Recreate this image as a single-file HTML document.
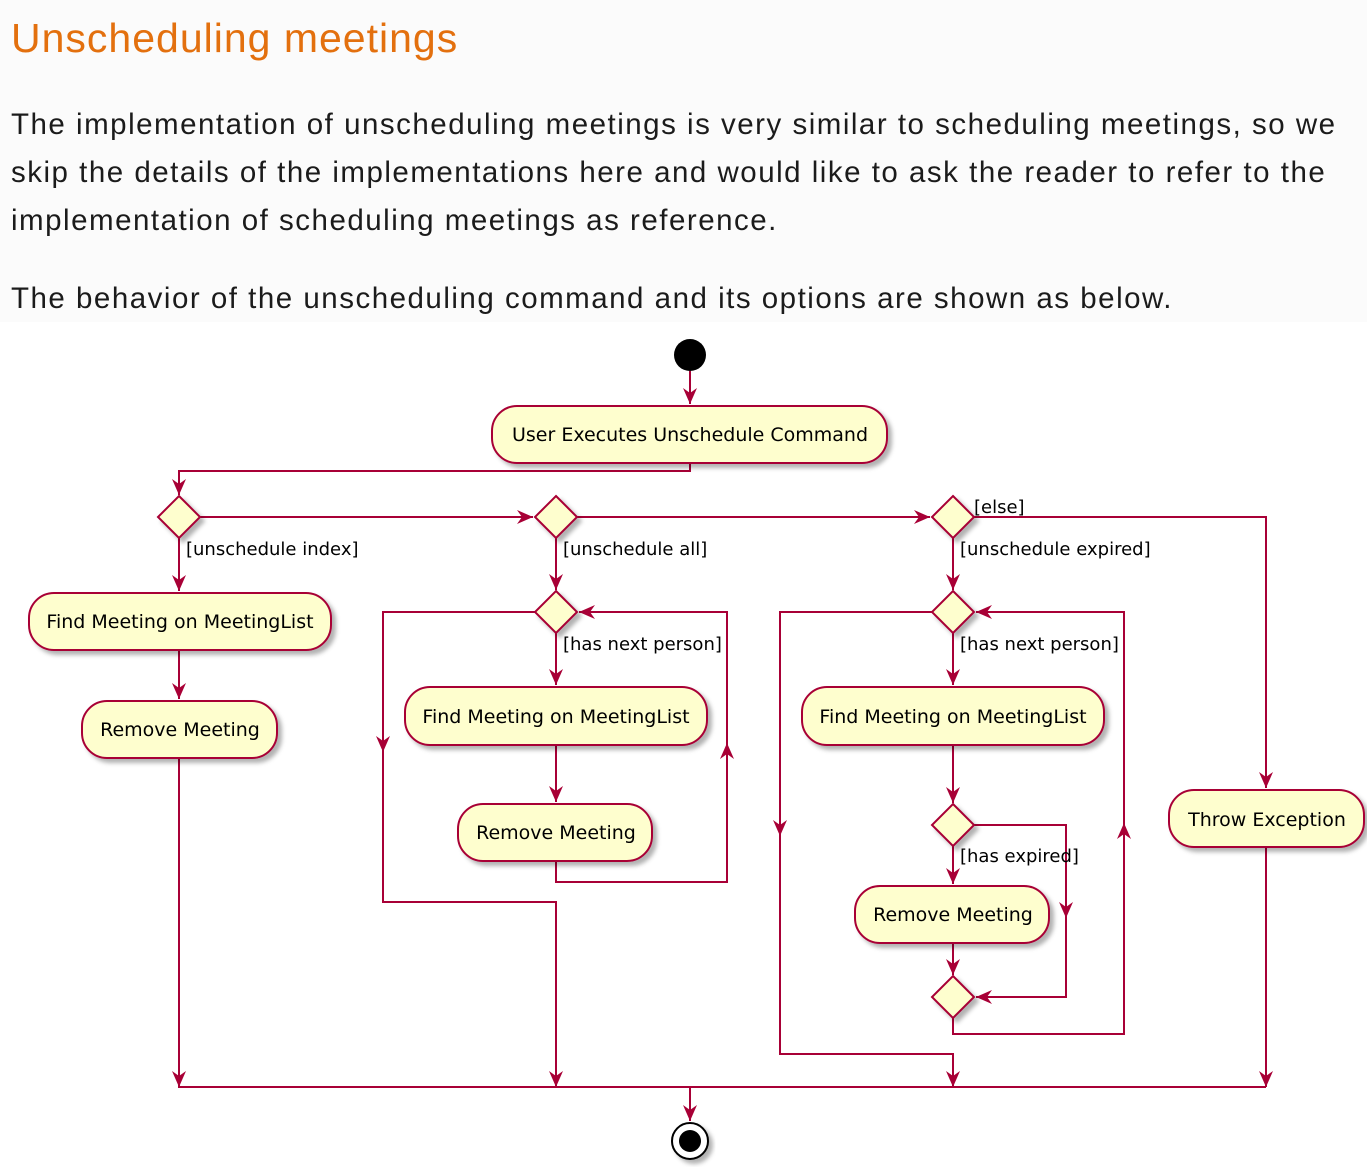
<!DOCTYPE html>
<html><head><meta charset="utf-8"><style>
html,body{margin:0;padding:0;background:#fff;}
body{width:1367px;height:1167px;overflow:hidden;position:relative;font-family:"Liberation Sans",sans-serif;}
.top{position:absolute;left:0;top:0;width:1367px;height:322px;background:#fbfbfb;}
h1{position:absolute;left:11px;top:10px;margin:0;font-weight:normal;font-size:41px;color:#e3700e;line-height:56px;letter-spacing:1px;}
p{position:absolute;left:11px;margin:0;font-size:29.5px;color:#1b1b1b;line-height:48px;white-space:nowrap;letter-spacing:1.5px;}
svg{position:absolute;left:0;top:0;}
</style></head><body>
<div class="top"></div>
<h1>Unscheduling meetings</h1>
<p style="top:101px">The implementation of unscheduling meetings is very similar to scheduling meetings, so we<br>skip the details of the implementations here and would like to ask the reader to refer to the<br>implementation of scheduling meetings as reference.</p>
<p style="top:275px">The behavior of the unscheduling command and its options are shown as below.</p>
<svg width="1367" height="1167" viewBox="0 0 1367 1167">
<defs>
<filter id="sh" x="-10%" y="-10%" width="130%" height="150%"><feDropShadow dx="4" dy="4" stdDeviation="2" flood-color="#000" flood-opacity="0.3"/></filter>
</defs>
<g fill="none" stroke="#a80036" stroke-width="2">
<polyline points="690,371 690,404"/>
<polyline points="690,463 690,471 179,471 179,495"/>
<polyline points="200,517 533,517"/>
<polyline points="577,517 930,517"/>
<polyline points="974,517 1266,517 1266,788"/>
<polyline points="179,538 179,591"/>
<polyline points="179,650 179,699"/>
<polyline points="179,758 179,1087 1266,1087"/>
<polyline points="556,538 556,590"/>
<polyline points="535,612 383,612 383,902 556,902 556,1087"/>
<polyline points="556,633 556,685"/>
<polyline points="556,745 556,802"/>
<polyline points="556,861 556,882 727,882 727,612 579,612"/>
<polyline points="953,538 953,590"/>
<polyline points="932,612 780,612 780,1054 953,1054 953,1087"/>
<polyline points="953,633 953,685"/>
<polyline points="953,745 953,803"/>
<polyline points="974,825 1066,825 1066,997 976,997"/>
<polyline points="953,846 953,884"/>
<polyline points="953,943 953,975"/>
<polyline points="953,1018 953,1034 1124,1034 1124,612 976,612"/>
<polyline points="1266,847 1266,1087"/>
<polyline points="690,1087 690,1121"/>
</g>
<g fill="#a80036">
<polygon points="690,404 683,388 690,393 697,388"/>
<polygon points="179,495 172,479 179,484 186,479"/>
<polygon points="533,517 517,510 522,517 517,524"/>
<polygon points="930,517 914,510 919,517 914,524"/>
<polygon points="1266,788 1259,772 1266,777 1273,772"/>
<polygon points="179,591 172,575 179,580 186,575"/>
<polygon points="179,699 172,683 179,688 186,683"/>
<polygon points="179,1087 172,1071 179,1076 186,1071"/>
<polygon points="556,590 549,574 556,579 563,574"/>
<polygon points="383,752 376,736 383,741 390,736"/>
<polygon points="556,1087 549,1071 556,1076 563,1071"/>
<polygon points="556,685 549,669 556,674 563,669"/>
<polygon points="556,802 549,786 556,791 563,786"/>
<polygon points="727,743 720,759 727,754 734,759"/>
<polygon points="579,612 595,605 590,612 595,619"/>
<polygon points="953,590 946,574 953,579 960,574"/>
<polygon points="780,836 773,820 780,825 787,820"/>
<polygon points="953,1087 946,1071 953,1076 960,1071"/>
<polygon points="953,685 946,669 953,674 960,669"/>
<polygon points="953,803 946,787 953,792 960,787"/>
<polygon points="1066,918 1059,902 1066,907 1073,902"/>
<polygon points="976,997 992,990 987,997 992,1004"/>
<polygon points="953,884 946,868 953,873 960,868"/>
<polygon points="953,975 946,959 953,964 960,959"/>
<polygon points="1124,823 1117,839 1124,834 1131,839"/>
<polygon points="976,612 992,605 987,612 992,619"/>
<polygon points="1266,1087 1259,1071 1266,1076 1273,1071"/>
<polygon points="690,1121 683,1105 690,1110 697,1105"/>
</g>
<circle cx="690" cy="355" r="16" fill="#000"/>
<circle cx="690" cy="1141" r="18" fill="#fff" stroke="#000" stroke-width="2" filter="url(#sh)"/>
<circle cx="690" cy="1141" r="11" fill="#000"/>
<g fill="#fefece" stroke="#a80036" stroke-width="2" filter="url(#sh)">
<rect x="492" y="406" width="395" height="57" rx="25"/>
<rect x="29" y="593" width="302" height="57" rx="25"/>
<rect x="82" y="701" width="195" height="57" rx="25"/>
<rect x="405" y="687" width="302" height="58" rx="25"/>
<rect x="458" y="804" width="194" height="57" rx="25"/>
<rect x="802" y="687" width="302" height="58" rx="25"/>
<rect x="855" y="886" width="194" height="57" rx="25"/>
<rect x="1169" y="790" width="195" height="57" rx="25"/>
<polygon points="179,496 200,517 179,538 158,517"/>
<polygon points="556,496 577,517 556,538 535,517"/>
<polygon points="953,496 974,517 953,538 932,517"/>
<polygon points="556,591 577,612 556,633 535,612"/>
<polygon points="953,591 974,612 953,633 932,612"/>
<polygon points="953,804 974,825 953,846 932,825"/>
<polygon points="953,976 974,997 953,1018 932,997"/>
</g>
<g font-family="'DejaVu Sans',sans-serif" font-size="19" fill="#000" text-anchor="middle">
<text x="690" y="441">User Executes Unschedule Command</text>
<text x="180" y="628">Find Meeting on MeetingList</text>
<text x="180" y="736">Remove Meeting</text>
<text x="556" y="723">Find Meeting on MeetingList</text>
<text x="556" y="839">Remove Meeting</text>
<text x="953" y="723">Find Meeting on MeetingList</text>
<text x="953" y="921">Remove Meeting</text>
<text x="1267" y="826">Throw Exception</text>
</g>
<g font-family="'DejaVu Sans',sans-serif" font-size="18" fill="#000">
<text x="186" y="555">[unschedule index]</text>
<text x="563" y="555">[unschedule all]</text>
<text x="960" y="555">[unschedule expired]</text>
<text x="974" y="513">[else]</text>
<text x="563" y="650">[has next person]</text>
<text x="960" y="650">[has next person]</text>
<text x="960" y="862">[has expired]</text>
</g>
</svg>
</body></html>
